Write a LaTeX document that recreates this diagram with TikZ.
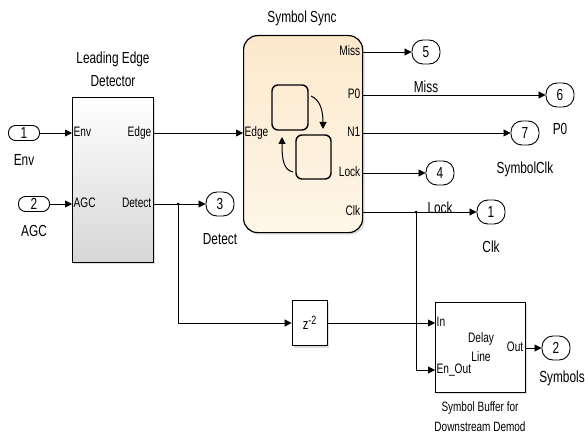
\documentclass[tikz,border=0pt]{standalone}
\usepackage{fontspec}
\setmainfont{Liberation Sans}[FakeStretch=0.74]
\usetikzlibrary{positioning,arrows.meta,shadows}
\definecolor{synctop}{RGB}{252,233,204}
\definecolor{syncbot}{RGB}{254,246,232}
\definecolor{ledgray}{RGB}{214,214,214}

\begin{document}
\begin{tikzpicture}[x=1pt,y=-1pt,
    blk/.style={draw,line width=0.8pt,inner sep=0pt,
                drop shadow={shadow xshift=2pt,shadow yshift=-2pt,fill=black!25}},
    inport/.style={draw,line width=0.9pt,rounded corners=7pt,fill=white,
                   minimum width=31pt,minimum height=15pt,inner sep=0pt,
                   font=\fontsize{16}{16}\selectfont},
    outport/.style={inport,rounded corners=11pt,
                    minimum width=28pt,minimum height=24pt},
    lbl/.style={font=\fontsize{16}{16}\selectfont,inner sep=1pt,
                text height=11.5pt,text depth=3.5pt},
    pin/.style={font=\fontsize{13.7}{14}\selectfont,inner sep=1.5pt,
                text height=10pt,text depth=3pt},
    ttl/.style={font=\fontsize{16}{23}\selectfont,align=center},
    arr/.style={-{Triangle[length=7pt,width=7pt]},line width=0.8pt},
    dot/.style={circle,fill,inner sep=0pt,minimum size=3pt},
    icon/.style={line width=1.4pt,rounded corners=6pt}]

  \path[use as bounding box,fill=white] (0,0) rectangle (585,438);

  % inputs
  \node[inport] (in1) at (24,133) {1};
  \node[inport] (in2) at (34,204) {2};
  \node[lbl,below=12pt of in1] (in1lbl) {Env};
  \node[lbl,below=12pt of in2] (in2lbl) {AGC};

  % leading edge detector
  \node[blk,minimum width=81pt,minimum height=165pt,anchor=north west,
        top color=white,bottom color=ledgray] (led) at (72,97) {};
  \node[ttl] (ledttl) at (113,69) {Leading Edge\\Detector};
  \node[pin,anchor=west] (pEnv) at (72,133) {Env};
  \node[pin,anchor=west] (pAGC) at (72,204) {AGC};
  \node[pin,anchor=east] (pEdge) at (153,133) {Edge};
  \node[pin,anchor=east] (pDetect) at (153,204) {Detect};

  % symbol sync chart
  \node[blk,line width=1.2pt,rounded corners=14pt,minimum width=119pt,
        minimum height=197pt,anchor=north west,
        top color=synctop,bottom color=syncbot] (sync) at (243,35) {};
  \node[ttl] (syncttl) at (302,18) {Symbol Sync};
  \node[pin,anchor=west] (pSEdge) at (243,133) {Edge};
  \node[pin,anchor=east] (pMiss) at (362,52) {Miss};
  \node[pin,anchor=east] (pP0) at (362,95) {P0};
  \node[pin,anchor=east] (pN1) at (362,133) {N1};
  \node[pin,anchor=east] (pLock) at (362,173) {Lock};
  \node[pin,anchor=east] (pClk) at (362,212) {Clk};
  % chart icon
  \draw[icon] (272,85) rectangle (308,130);
  \draw[icon] (296,135) rectangle (331,179);
  \draw[arr,line width=1pt] (311,96) .. controls (320,100) and (323,110) .. (323,129);
  \draw[arr,line width=1pt] (293,172) .. controls (283,170) and (282,158) .. (282,137);

  % outputs
  \node[outport] (o5) at (426,52) {5};
  \node[outport] (o6) at (560,95) {6};
  \node[outport] (o7) at (525,133) {7};
  \node[outport] (o4) at (440,173) {4};
  \node[outport] (o1) at (491,212) {1};
  \node[outport] (o3) at (220,204) {3};
  \node[outport] (o2) at (556,348) {2};
  \node[lbl,below=15pt of o5] (o5lbl) {Miss};
  \node[lbl,below=14pt of o6] (o6lbl) {P0};
  \node[lbl,below=15pt of o7] (o7lbl) {SymbolClk};
  \node[lbl,below=15pt of o4] (o4lbl) {Lock};
  \node[lbl,below=15pt of o1] (o1lbl) {Clk};
  \node[lbl,below=15pt of o3] (o3lbl) {Detect};
  \node[lbl,below=9pt of o2,xshift=6pt] (o2lbl) {Symbols};

  % delay and buffer
  \node[blk,fill=white,minimum width=35pt,minimum height=45pt,
        font=\fontsize{15}{15}\selectfont] (zdel) at (309.5,323)
        {z\raisebox{5pt}{\fontsize{12}{12}\selectfont -2}};
  \node[blk,fill=white,minimum width=90pt,minimum height=90pt,
        anchor=north west] (dline) at (435,302) {};
  \node[pin,anchor=west] (pIn) at (435,323) {In};
  \node[pin,anchor=west] (pEnOut) at (435,370) {En\_Out};
  \node[pin,anchor=east] (pOut) at (525,348) {Out};
  \node[align=center,font=\fontsize{13.7}{19}\selectfont] (dtxt) at (481,347) {Delay\\Line};
  \node[align=center,font=\fontsize{13.5}{20}\selectfont] (dcap) at (480,417)
        {Symbol Buffer for\\Downstream Demod};

  % signal lines
  \draw[arr] (in1) -- (pEnv.west);
  \draw[arr] (in2) -- (pAGC.west);
  \draw[arr] (pEdge.east) -- (pSEdge.west);
  \draw[arr] (pDetect.east) -- (o3);
  \node[dot] (ddot) at (178,204) {};
  \draw[arr] (ddot.center) |- (zdel.west);
  \draw[arr] (zdel.east) -- (pIn.west);
  \draw[arr] (pMiss.east) -- (o5);
  \draw[arr] (pP0.east) -- (o6);
  \draw[arr] (pN1.east) -- (o7);
  \draw[arr] (pLock.east) -- (o4);
  \draw[arr] (pClk.east) -- (o1);
  \node[dot] (cdot) at (416,212) {};
  \draw[arr] (cdot.center) |- (pEnOut.west);
  \draw[arr] (pOut.east) -- (o2);
\end{tikzpicture}
\end{document}
